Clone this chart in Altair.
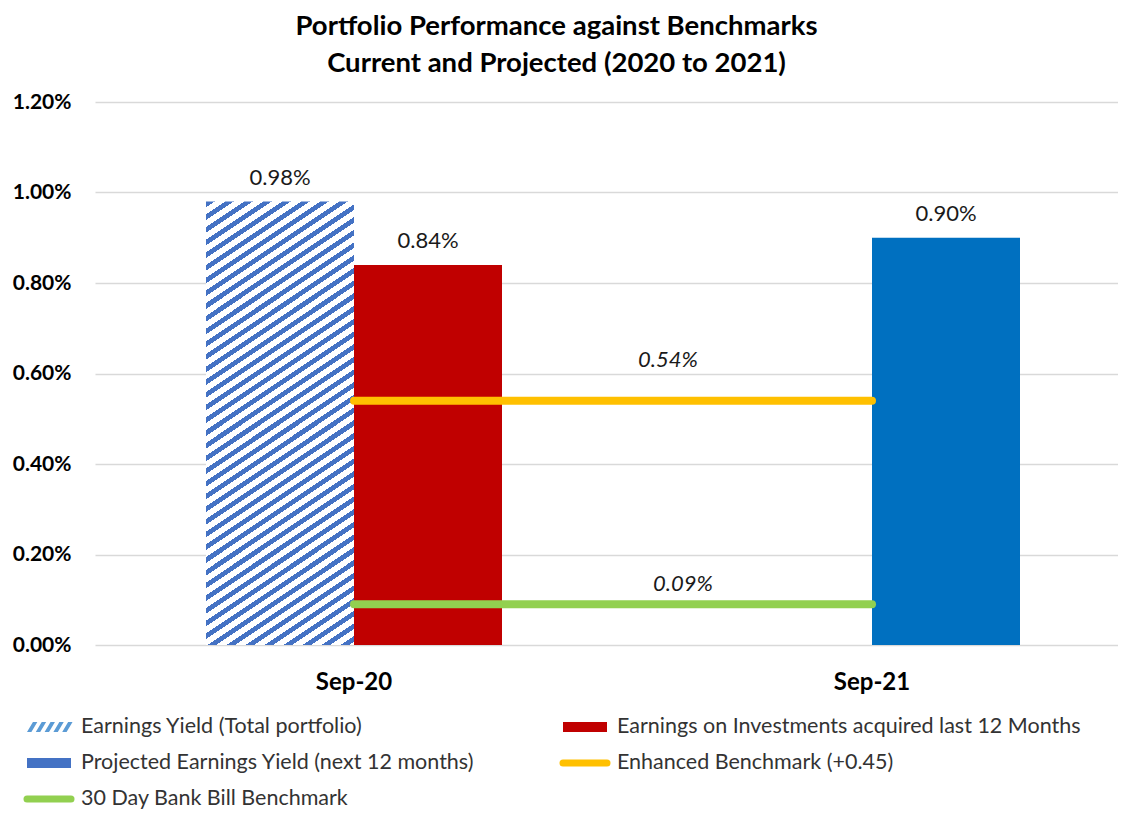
import altair as alt
import pandas as pd

# ---------------- data ----------------
periods = ["Sep-20", "Sep-21"]
series_names = [
    "Earnings Yield (Total portfolio)",
    "Earnings on Investments acquired last 12 Months",
    "Projected Earnings Yield (next 12 months)",
    "Enhanced Benchmark (+0.45)",
    "30 Day Bank Bill Benchmark",
]
# bar series (period, slot, series, value)
bar_periods = ["Sep-20", "Sep-20", "Sep-21"]
bar_slots = ["s1", "s2", "s2"]
bar_series = [series_names[0], series_names[1], series_names[2]]
bar_values = [0.0098, 0.0084, 0.0090]
# benchmark lines
enhanced_values = [0.0054, 0.0054]
bankbill_values = [0.0009, 0.0009]
# legend layout (column, row)
legend_cols = [0, 1, 0, 1, 0]
legend_rows = [0, 0, 1, 1, 2]
y_ticks = [0, 0.002, 0.004, 0.006, 0.008, 0.010, 0.012]

bars_df = pd.DataFrame({"period": bar_periods, "slot": bar_slots,
                        "series": bar_series, "value": bar_values})
lines_df = pd.DataFrame({
    "period": periods * 2,
    "series": [series_names[3]] * 2 + [series_names[4]] * 2,
    "value": enhanced_values + bankbill_values,
})
lines_lbl_df = lines_df[lines_df["period"] == periods[0]]
legend_df = pd.DataFrame({"series": series_names, "col": legend_cols, "row": legend_rows})

# ---------------- style ----------------
FONT = "Lato"
W, H = 1023, 543
X_RANGE = 1036
PAD_OUT = 0.75
main_colors = ["#4472C4", "#C00000", "#0070C0", "#FFC000", "#92D050"]
legend_colors = ["#5B9BD5", "#C00000", "#4472C4", "#FFC000", "#92D050"]

# hatch pattern via hard-stop linear gradient
step = (X_RANGE / 2) / (2 + 2 * PAD_OUT)
bar_h = bar_values[0] / y_ticks[-1] * H
Px, Py, frac = 19.0, 12.7, 0.45
A, B = step / Px, bar_h / Py
N = A + B
c = N / (A * A + B * B)
hatch_blue, white = "#4472C4", "#FFFFFF"
stops = []
i = 0
while i / N < 1:
    o0 = i / N
    o1 = min((i + frac) / N, 1)
    o2 = min((i + 1) / N, 1)
    stops += [alt.GradientStop(color=hatch_blue, offset=o0),
              alt.GradientStop(color=hatch_blue, offset=o1),
              alt.GradientStop(color=white, offset=o1),
              alt.GradientStop(color=white, offset=o2)]
    i += 1
hatch = alt.LinearGradient(gradient="linear", stops=stops,
                           x1=0, y1=0, x2=c * A, y2=c * B)

x_scale = alt.Scale(domain=periods, paddingInner=0, paddingOuter=0, range=[0, X_RANGE])
y_scale = alt.Scale(domain=[0, 0.012])
off_scale = alt.Scale(domain=["s1", "s2"], paddingInner=0, paddingOuter=PAD_OUT)
color_scale = alt.Scale(domain=series_names, range=main_colors)

x_axis = alt.Axis(title=None, labelFont=FONT, labelFontSize=24, labelFontWeight="bold",
                  labelColor="#000000", labelPadding=25, domain=False, ticks=False,
                  labelAngle=0, grid=False)
y_axis = alt.Axis(title=None, format=".2%", values=y_ticks, grid=True, gridColor="#d9d9d9",
                  gridWidth=1.3, domain=False, ticks=False, labelFont=FONT, labelFontSize=21,
                  labelFontWeight="bold", labelColor="#000000", labelPadding=24)


def X(**kw):
    return alt.X("period:N", scale=x_scale, axis=x_axis, **kw)


def Y():
    return alt.Y("value:Q", scale=y_scale, axis=y_axis)


off = alt.XOffset("slot:N", scale=off_scale)

bars = alt.Chart(bars_df).transform_filter(
    alt.datum.series != series_names[0]
).mark_bar(opacity=1).encode(
    x=X(), xOffset=off, y=Y(),
    color=alt.Color("series:N", scale=color_scale, legend=None),
)
hatched = alt.Chart(bars_df).transform_filter(
    alt.datum.series == series_names[0]
).mark_bar(fill=hatch, opacity=1).encode(x=X(), xOffset=off, y=Y())

bar_labels = alt.Chart(bars_df).mark_text(
    font=FONT, fontSize=22, color="#1a1a1a", baseline="middle", dy=-24
).encode(x=X(), xOffset=off, y=Y(), text=alt.Text("value:Q", format=".2%"))

lines = alt.Chart(lines_df).mark_line(strokeWidth=8, strokeCap="round").encode(
    x=X(), y=Y(),
    color=alt.Color("series:N", scale=color_scale, legend=None),
)
lbl_common = dict(font=FONT, fontSize=22, fontStyle="italic", color="#1a1a1a", baseline="middle")
enh_label = alt.Chart(lines_lbl_df).transform_filter(
    alt.datum.series == series_names[3]
).mark_text(dx=55, dy=-41, **lbl_common).encode(
    x=X(bandPosition=1), y=Y(), text=alt.Text("value:Q", format=".2%"))
bb_label = alt.Chart(lines_lbl_df).transform_filter(
    alt.datum.series == series_names[4]
).mark_text(dx=70, dy=-20, **lbl_common).encode(
    x=X(bandPosition=1), y=Y(), text=alt.Text("value:Q", format=".2%"))

main = alt.layer(hatched, bars, lines, bar_labels, enh_label, bb_label)

# ---------------- legend ----------------
lx = alt.X("col:O", scale=alt.Scale(type="point", domain=[0, 1], range=[-46, 490], padding=0), axis=None)
ly = alt.Y("row:O", scale=alt.Scale(type="point", domain=[0, 1, 2], range=[625, 697], padding=0), axis=None)
lcolor = alt.Color("series:N", scale=alt.Scale(domain=series_names, range=legend_colors), legend=None)

hatch_path = " ".join(
    f"M{-1 + 0.4 * k:.3f},0.23 L{-0.73 + 0.4 * k:.3f},-0.23 L{-0.53 + 0.4 * k:.3f},-0.23 L{-0.8 + 0.4 * k:.3f},0.23 Z"
    for k in range(5)
)
rect_path = "M-1,-0.23 L1,-0.23 L1,0.23 L-1,0.23 Z"
line_path = "M-1,0 L1,0"

leg_base = alt.Chart(legend_df)
leg_hatch = leg_base.transform_filter(alt.datum.series == series_names[0]).mark_point(
    shape=hatch_path, size=1936, filled=True, opacity=1, strokeWidth=0, fill="#5B9BD5"
).encode(x=lx, y=ly)
leg_rect = leg_base.transform_filter(
    (alt.datum.series == series_names[1]) | (alt.datum.series == series_names[2])
).mark_point(shape=rect_path, size=1936, filled=True, opacity=1, strokeWidth=0).encode(
    x=lx, y=ly, color=lcolor)
leg_line = leg_base.transform_filter(
    (alt.datum.series == series_names[3]) | (alt.datum.series == series_names[4])
).mark_point(shape=line_path, size=1936, filled=False, opacity=1, strokeWidth=7,
             strokeCap="round").encode(x=lx, y=ly, color=lcolor)
leg_text = leg_base.mark_text(font=FONT, fontSize=21.5, color="#333333", align="left",
                              baseline="middle", dx=32).encode(x=lx, y=ly, text="series:N")
legend = alt.layer(leg_hatch, leg_rect, leg_line, leg_text)

chart = alt.layer(main, legend).resolve_scale(
    x="independent", y="independent", color="independent"
).properties(
    width=W, height=H,
    title=alt.TitleParams(
        text=["Portfolio Performance against Benchmarks", "Current and Projected (2020 to 2021)"],
        font=FONT, fontSize=27.5, fontWeight="bold", color="#000000", anchor="middle",
        lineHeight=37, offset=14, dx=-50,
    ),
    autosize=alt.AutoSizeParams(type="none"),
    padding={"left": 87, "top": 94, "right": 0, "bottom": 168},
).configure_view(stroke=None)

chart.save("out.html", embed_options={"renderer": "svg", "actions": False})
